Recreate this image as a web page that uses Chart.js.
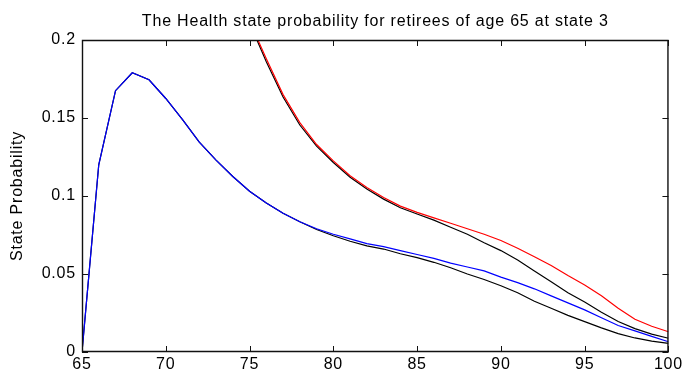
<!DOCTYPE html>
<html>
<head>
<meta charset="utf-8">
<script src="https://cdn.jsdelivr.net/npm/chart.js@4/dist/chart.umd.min.js"></script>
<style>
html,body{margin:0;padding:0;background:#fff;}
#wrap{width:686px;height:378px;position:relative;}
</style>
</head>
<body>
<div id="wrap"><canvas id="c" width="686" height="378"></canvas></div>
<script>
const ages = [65,66,67,68,69,70,71,72,73,74,75,76,77,78,79,80,81,82,83,84,85,86,87,88,89,90,91,92,93,94,95,96,97,98,99,100];

const blueLower = [0,0.120,0.1675,0.179,0.1745,0.1625,0.149,0.1345,0.123,0.1125,0.103,0.0955,0.089,0.0835,0.079,0.0755,0.0725,0.0695,0.0675,0.065,0.0625,0.060,0.057,0.0545,0.052,0.048,0.0445,0.0405,0.036,0.0315,0.027,0.022,0.017,0.0135,0.010,0.0066];

const blackLower = [0,0.120,0.1675,0.179,0.1745,0.1625,0.149,0.1345,0.123,0.1125,0.103,0.0955,0.089,0.0835,0.0785,0.0745,0.071,0.068,0.066,0.063,0.0605,0.0575,0.054,0.050,0.0465,0.0425,0.038,0.0325,0.028,0.0235,0.0195,0.0155,0.0118,0.009,0.007,0.0055];

const redUpper = [null,null,null,null,null,null,null,null,null,null,0.212,0.188,0.165,0.147,0.133,0.1225,0.113,0.1055,0.099,0.0935,0.0895,0.086,0.0825,0.079,0.0755,0.0715,0.0665,0.061,0.0555,0.049,0.043,0.036,0.028,0.021,0.0165,0.013];

const blackUpper = [null,null,null,null,null,null,null,null,null,null,0.211,0.186,0.1635,0.1455,0.132,0.1215,0.112,0.1045,0.098,0.0925,0.0885,0.0845,0.080,0.0755,0.070,0.065,0.059,0.052,0.045,0.038,0.032,0.0255,0.0195,0.015,0.0115,0.0088];

const xTicks = [65,70,75,80,85,90,95,100];
const yTicks = [0,0.05,0.1,0.15,0.2];
const yTickLabels = ['0','0.05','0.1','0.15','0.2'];

const toPts = arr => ages.map((a,i)=>({x:a,y:arr[i]}));

const spacingPlugin = {
  id:'spacing',
  beforeUpdate(chart){ chart.ctx.letterSpacing='0.8px'; },
  beforeLayout(chart){ chart.ctx.letterSpacing='0.8px'; },
  beforeDraw(chart){ chart.ctx.letterSpacing='0.8px'; }
};

const boxPlugin = {
  id:'box',
  afterDatasetsDraw(chart){
    const {ctx, chartArea:{left,right,top,bottom}, scales:{x,y}} = chart;
    ctx.save();
    ctx.strokeStyle='#111';
    ctx.lineWidth=1.4;
    ctx.beginPath();
    ctx.rect(left+0.5,top+0.5,right-left-1,bottom-top-1);
    ctx.stroke();
    ctx.lineWidth=1;
    ctx.beginPath();
    const L=6;
    xTicks.forEach(v=>{
      const px=Math.round(x.getPixelForValue(v))+0.5;
      ctx.moveTo(px,bottom); ctx.lineTo(px,bottom-L);
      ctx.moveTo(px,top); ctx.lineTo(px,top+L);
    });
    yTicks.forEach(v=>{
      const py=Math.round(y.getPixelForValue(v))+0.5;
      ctx.moveTo(left,py); ctx.lineTo(left+L,py);
      ctx.moveTo(right,py); ctx.lineTo(right-L,py);
    });
    ctx.stroke();
    ctx.restore();
  }
};

const font = {family:'"Liberation Sans", Arial, sans-serif', size:16};

new Chart(document.getElementById('c'),{
  type:'line',
  data:{
    datasets:[
      {label:'blue', data:toPts(blueLower), borderColor:'#0000ff', borderWidth:1.2, pointRadius:0, tension:0, fill:false},
      {label:'red', data:toPts(redUpper), borderColor:'#ff0000', borderWidth:1.2, pointRadius:0, tension:0, fill:false, spanGaps:false},
      {label:'black1', data:toPts(blackLower), borderColor:'#000000', borderWidth:1.2, pointRadius:0, tension:0, fill:false},
      {label:'black2', data:toPts(blackUpper), borderColor:'#000000', borderWidth:1.2, pointRadius:0, tension:0, fill:false}
    ]
  },
  options:{
    responsive:false,
    animation:false,
    events:[],
    layout:{padding:{left:0,right:16,top:0,bottom:0}},
    plugins:{
      legend:{display:false},
      tooltip:{enabled:false},
      title:{display:true, fullSize:false, text:'The Health state probability for retirees of age 65 at state 3', color:'#000', font:{...font, weight:'normal'}, padding:{top:12,bottom:8.8}}
    },
    scales:{
      x:{type:'linear', min:65, max:100,
        afterBuildTicks(s){ s.ticks = xTicks.map(v=>({value:v})); },
        afterFit(s){ s.height = 26; },
        grid:{display:false, drawTicks:false},
        border:{display:false},
        ticks:{color:'#000', font:font, padding:3, maxRotation:0, autoSkip:false, callback:v=>String(v)}
      },
      y:{type:'linear', min:0, max:0.2,
        afterBuildTicks(s){ s.ticks = yTicks.map(v=>({value:v})); },
        afterFit(s){ s.width = 82; },
        grid:{display:false, drawTicks:false},
        border:{display:false},
        title:{display:true, text:'State Probability', color:'#000', font:font, padding:{top:7.5,bottom:0}},
        ticks:{color:'#000', font:font, padding:6, autoSkip:false, callback:(v)=>{const i=yTicks.indexOf(v); return i>=0?yTickLabels[i]:'';}}
      }
    }
  },
  plugins:[spacingPlugin, boxPlugin]
});
</script>
</body>
</html>
